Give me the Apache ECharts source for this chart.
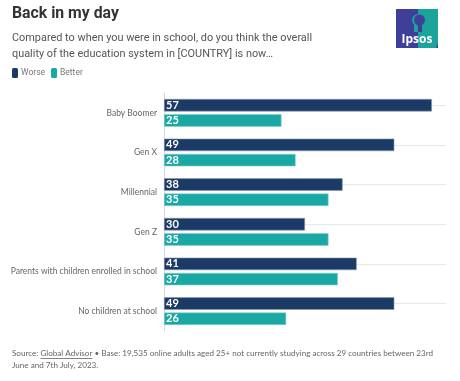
<!DOCTYPE html>
<html><head><meta charset="utf-8">
<script src="https://cdn.jsdelivr.net/npm/echarts@6/dist/echarts.min.js"></script>
<style>html,body{margin:0;padding:0;background:#fff}#c{width:460px;height:381px}</style>
</head><body><div id="c"></div>
<script>
var categories = ['Baby Boomer','Gen X','Millennial','Gen Z','Parents with children enrolled in school','No children at school'];
var worse = [57,49,38,30,41,49];
var better = [25,28,35,35,37,26];
var seriesNames = ['Worse','Better'];

var footFont = '8.1px Lato';
var cv = document.createElement('canvas').getContext('2d');
cv.font = footFont;
var ulX1 = 12 + cv.measureText('Source: ').width;
var ulX2 = ulX1 + cv.measureText('Global Advisor').width;

var chart = echarts.init(document.getElementById('c'));
var lbl = {show:true, position:'insideLeft', distance:2, color:'#fff', fontFamily:'Lato', fontWeight:'bold', fontSize:11};
chart.setOption({
  animation:false,
  title:[
    {text:'Back in my day', left:12, top:6, padding:0, textStyle:{fontFamily:'Roboto', fontWeight:'bold', fontSize:15.8, color:'#333'}},
    {text:'Compared to when you were in school, do you think the overall\nquality of the education system in [COUNTRY] is now…', left:12, top:30, padding:0,
     textStyle:{fontFamily:'Roboto', fontWeight:'normal', fontSize:10.9, lineHeight:16, color:'#555'}}
  ],
  legend:{left:12, top:68, padding:0, itemWidth:6, itemHeight:10, itemGap:6, icon:'roundRect',
    itemStyle:{borderWidth:0},
    textStyle:{fontFamily:'Roboto', fontSize:8.5, color:'#777', padding:[0,0,0,-2]}, data:seriesNames},
  grid:{left:164, right:14, top:93, bottom:50, containLabel:false},
  xAxis:{type:'value', min:0, max:60, show:false},
  yAxis:{type:'category', inverse:true, data:categories,
    axisLine:{lineStyle:{color:'#d8d8d8'}}, axisTick:{show:false},
    axisLabel:{fontFamily:'Lato', fontSize:8.5, color:'#666', margin:7}},
  series:[
    {name:'Worse', type:'bar', data:worse, barWidth:12.5, barGap:'22%', itemStyle:{color:'#1b3a65', borderColor:'#8c9ab0', borderWidth:0.6}, label:lbl,
     markLine:{silent:true, symbol:'none', label:{show:false}, z:1, lineStyle:{color:'#e8e8e8', type:'solid', width:1},
       data:categories.map(function(c){return {yAxis:c};})}},
    {name:'Better', type:'bar', data:better, barWidth:12.5, itemStyle:{color:'#1aa8a5', borderColor:'#8fd0cd', borderWidth:0.6}, label:lbl}
  ],
  graphic:[
    {type:'text', left:12, top:348, style:{text:'Source: Global Advisor • Base: 19,535 online adults aged 25+ not currently studying across 29 countries between 23rd\nJune and 7th July, 2023.', font:footFont, fill:'#666', lineHeight:11.5}},
    {type:'line', shape:{x1:ulX1, y1:358.5, x2:ulX2, y2:358.5}, style:{stroke:'#666', lineWidth:0.8}},
    {type:'group', left:396, top:9, children:[
      {type:'rect', shape:{x:0,y:0,width:42,height:39}, style:{fill:'#3e3f99'}},
      {type:'polygon', shape:{points:[[22,0],[42,0],[42,34],[40,39],[22,39]]}, style:{fill:'#1aa49b'}},
      {type:'circle', shape:{cx:22,cy:11,r:6}, style:{fill:'#1aa49b'}},
      {type:'rect', shape:{x:18,y:14,width:4,height:9}, style:{fill:'#1aa49b'}},
      {type:'circle', shape:{cx:23.5,cy:11,r:5.5}, style:{fill:'#3e3f99'}},
      {type:'rect', shape:{x:22,y:14,width:4,height:9}, style:{fill:'#3e3f99'}},
      {type:'rect', shape:{x:0,y:0,width:22,height:4}, style:{fill:'#3e3f99'}},
      {type:'text', style:{x:21, y:31, text:'Ipsos', font:'bold 12px "Open Sans"', fill:'#fff', textAlign:'center', textVerticalAlign:'middle'}}
    ]}
  ]
});
</script></body></html>
